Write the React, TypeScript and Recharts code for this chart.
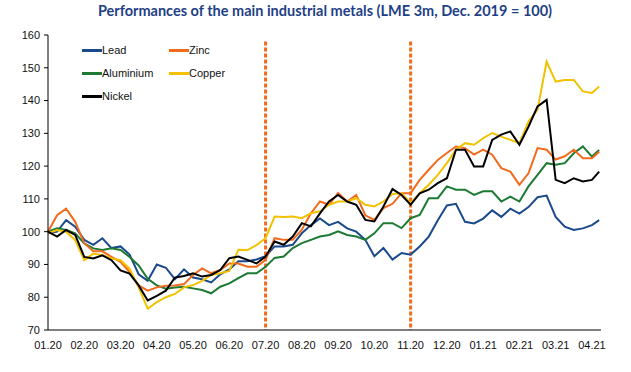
import React from "react";
import { LineChart, Line, XAxis, YAxis, ReferenceLine } from "recharts";

const monthLabels = ["01.20","02.20","03.20","04.20","05.20","06.20","07.20","08.20","09.20","10.20","11.20","12.20","01.21","02.21","03.21","04.21"];
const monthTicks = [0,1,2,3,4,5,6,7,8,9,10,11,12,13,14,15];
const yTicks = [70,80,90,100,110,120,130,140,150,160];
const markers = [6, 10];

const positions = [0,0.25,0.5,0.75,1,1.25,1.5,1.75,2,2.25,2.5,2.75,3,3.25,3.5,3.75,4,4.25,4.5,4.75,5,5.25,5.5,5.75,6,6.25,6.5,6.75,7,7.25,7.5,7.75,8,8.25,8.5,8.75,9,9.25,9.5,9.75,10,10.25,10.5,10.75,11,11.25,11.5,11.75,12,12.25,12.5,12.75,13,13.25,13.5,13.75,14,14.25,14.5,14.75,15,15.2];

const lead = [99.5,100,103.5,101.5,97.5,96,98,95,95.5,93,87,85,90,89,85.5,88.5,86,85.5,84.5,87,88.5,91,91,91.5,92.5,95.5,95.5,96,99.5,102,104,102,103,101,100,97.5,92.5,95,91.5,93.5,93,95.5,98.5,103.5,108,108.5,103,102.5,104,106.5,104.5,107,105.5,107.5,110.5,111,104.5,101.5,100.5,101,102,103.5];
const zinc = [100,105,107,103,96.5,94,94,92.3,90.8,87.7,83.6,82,83,83.5,83.6,84,86.8,88.8,87.3,88.3,90.3,90.3,89.3,89.3,91.4,98,97.5,97.5,100.6,105.6,109.2,108.2,111.8,109.2,111.2,105,103.6,107.2,108.5,111.7,111.7,115.8,118.9,121.9,124,126,125.5,123.5,125,123.5,119.4,118.3,114.3,117.8,125.5,125,122,123,125,122.4,122.4,124.4];
const aluminium = [100,101,100.5,99.5,96.4,94.9,94.4,94.9,94.4,92.3,89.7,85.6,83.6,82.6,83,83.2,82.7,82.2,81.2,83.2,84.2,85.8,87.3,87.3,89.3,92,92.4,95,96.5,97.5,98.5,99,100.1,99,98.5,97.5,99.5,102.6,102.6,101.1,104.1,105.1,110.2,110.2,113.8,112.8,112.8,111.2,112.3,112.3,109.2,110.7,109.2,113.8,117.3,120.9,120.4,120.9,123.9,126,122.9,124.9];
const copper = [99.5,100.5,100,97.4,91.3,93.3,92.8,91.8,91.3,88.7,83,76.5,78.5,80,81,83,83.7,85,86.8,87.3,88,94.5,94.4,95.9,98,104.6,104.5,104.6,104.1,105.6,106.2,108.2,109.2,109.2,110.2,108.2,107.7,109.2,111.5,111.7,108.7,111.7,114.3,117.3,120.9,125,127,126.5,128.5,130.1,129,128,127,133.6,137.2,151.9,145.8,146.3,146.3,142.8,142.3,144.3];
const nickel = [100,98.5,100.5,99,92.3,91.8,92.8,91.3,88.2,87.2,83.6,79,80.4,82,86,86.5,87.3,86.3,86.8,88.3,91.9,92.4,91.4,90.3,92.4,97,96,98.5,102.6,101.6,105.6,109.2,111.2,109.2,108.2,103.6,103.1,107.7,113,111.2,108.2,111.7,112.8,114.8,116.3,125,125,119.9,119.9,128,129.6,130.6,126.5,132,138.2,140.2,115.8,114.8,116.3,115.3,115.8,118.3];

const series = [
  { key: "lead", name: "Lead", color: "#1B4A8C", values: lead },
  { key: "aluminium", name: "Aluminium", color: "#1C7A33", values: aluminium },
  { key: "zinc", name: "Zinc", color: "#F26B1D", values: zinc },
  { key: "copper", name: "Copper", color: "#F2C200", values: copper },
  { key: "nickel", name: "Nickel", color: "#000000", values: nickel },
];

const legendOrder = ["lead", "zinc", "aluminium", "copper", "nickel"];

const data = positions.map((m, i) => {
  const row: any = { m };
  series.forEach((s) => { row[s.key] = s.values[i]; });
  return row;
});

export default function App() {
  return (
    <div style={{ position: "absolute", left: 0, top: 0, width: 631, height: 372, background: "#fff" }}>
      <div style={{ position: "absolute", left: 0, top: 2, width: 650, textAlign: "center", fontFamily: "Lato, sans-serif", fontWeight: 700, fontSize: 14.5, color: "#1F3F86" }}>
        Performances of the main industrial metals (LME 3m, Dec. 2019 = 100)
      </div>
      <LineChart width={631} height={372} data={data} margin={{ top: 35, right: 30, bottom: 12, left: 0 }}>
        <XAxis
          dataKey="m"
          type="number"
          domain={[0, 15.25]}
          ticks={monthTicks}
          tickFormatter={(v: number) => monthLabels[v]}
          tickLine={false}
          tickSize={6}
          tickMargin={5}
          height={30}
          axisLine={{ stroke: "#000", strokeWidth: 1 }}
          tick={{ fontSize: 11, fill: "#111", fontFamily: "Liberation Sans, Arial, sans-serif" }}
          interval={0}
        />
        <YAxis
          type="number"
          domain={[70, 160]}
          ticks={yTicks}
          width={48}
          tickSize={4}
          tickMargin={4}
          tickLine={{ stroke: "#000" }}
          axisLine={{ stroke: "#000", strokeWidth: 1 }}
          tick={{ fontSize: 11, fill: "#111", fontFamily: "Liberation Sans, Arial, sans-serif" }}
          interval={0}
        />
        {markers.map((mk) => (
          <ReferenceLine key={mk} segment={[{ x: mk, y: 158 }, { x: mk, y: 70 }]} stroke="#F26B1D" strokeWidth={3} strokeDasharray="4 2" />
        ))}
        {series.map((s) => (
          <Line key={s.key} type="linear" dataKey={s.key} name={s.name} stroke={s.color} strokeWidth={2} dot={false} isAnimationActive={false} />
        ))}
      </LineChart>
      <div style={{ position: "absolute", left: 82, top: 43, display: "grid", gridTemplateColumns: "87px 87px", rowGap: 9, fontFamily: "Liberation Sans, Arial, sans-serif", fontSize: 11, color: "#111" }}>
        {legendOrder.map((k) => {
          const s = series.find((x) => x.key === k)!;
          return (
            <div key={k} style={{ display: "flex", alignItems: "center", height: 14 }}>
              <span style={{ display: "inline-block", width: 20, height: 3, background: s.color }} />
              <span>{s.name}</span>
            </div>
          );
        })}
      </div>
    </div>
  );
}
